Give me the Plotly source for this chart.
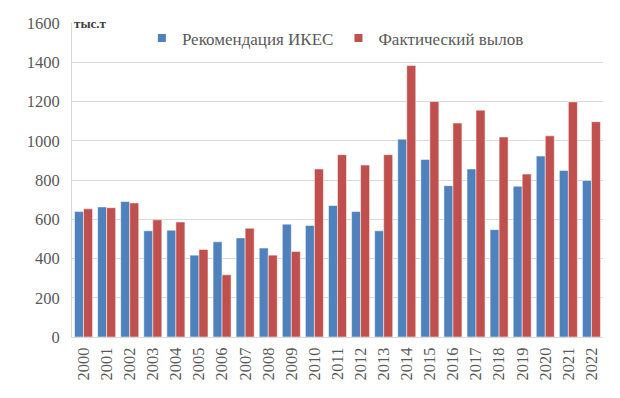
import plotly.graph_objects as go

years = [str(y) for y in range(2000, 2023)]
ices = [639, 663, 690, 541, 544, 417, 485, 505, 453, 575, 568, 670, 639, 541,
        1008, 905, 771, 856, 547, 768, 922, 849, 798]
catch = [653, 659, 683, 597, 586, 446, 317, 554, 417, 436, 856, 929, 876, 929,
         1383, 1200, 1090, 1156, 1019, 830, 1025, 1198, 1097]
names = ["Рекомендация ИКЕС", "Фактический вылов"]
colors = ["#4F81BD", "#C0504D"]

serif = "Liberation Serif"

fig = go.Figure()
for name, vals, col in zip(names, [ices, catch], colors):
    fig.add_trace(go.Bar(name=name, x=years, y=vals, showlegend=False,
                         marker=dict(color=col, line=dict(color="#ffffff", width=0.5))))
for name, col in zip(names, colors):
    fig.add_trace(go.Scatter(name=name, x=[None], y=[None], mode="markers",
                             marker=dict(symbol="square", size=8, color=col),
                             showlegend=True))

fig.update_layout(
    width=612, height=390,
    margin=dict(l=64, r=17, t=13, b=61),
    paper_bgcolor="white", plot_bgcolor="white",
    barmode="group", bargap=0.22, bargroupgap=0,
    font=dict(family=serif, size=16.5, color="#595959"),
    legend=dict(orientation="h", x=0.496, xanchor="center", y=0.951, yanchor="middle",
                font=dict(family=serif, size=17, color="#595959"),
                bgcolor="rgba(0,0,0,0)", itemwidth=30, traceorder="normal"),
    showlegend=True,
)
fig.update_yaxes(range=[0, 1600], dtick=200, showgrid=True, gridcolor="#D9D9D9",
                 gridwidth=1, zeroline=False, showline=True, linecolor="#D9D9D9",
                 ticks="", automargin=False, ticklabelstandoff=8,
                 tickfont=dict(family=serif, size=16.5, color="#595959"))
fig.update_xaxes(type="category", tickangle=-90, showline=True, linecolor="#D9D9D9",
                 ticks="", automargin=False, ticklabelstandoff=3,
                 tickfont=dict(family=serif, size=16.5, color="#595959"))
fig.add_annotation(text="<b>тыс.т</b>", xref="paper", yref="paper", x=0.0, y=1.0,
                   xanchor="left", yanchor="middle", showarrow=False,
                   font=dict(family=serif, size=13, color="#404040"))

fig.write_html("out.html")
